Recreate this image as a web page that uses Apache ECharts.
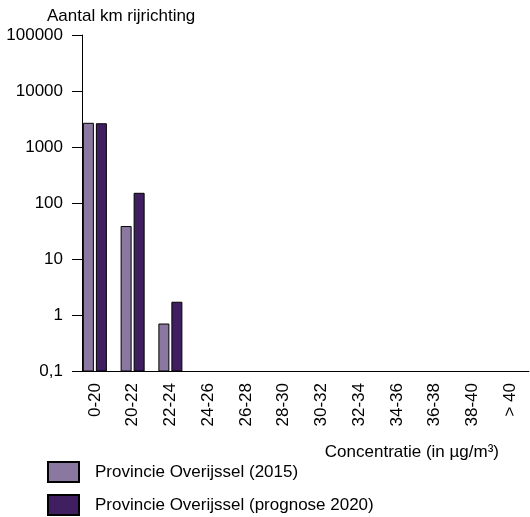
<!DOCTYPE html>
<html>
<head>
<meta charset="utf-8">
<script src="https://cdn.jsdelivr.net/npm/echarts@6/dist/echarts.min.js"></script>
<style>html,body{margin:0;padding:0;background:#fff}#c{width:530px;height:517px}</style>
</head>
<body>
<div id="c"></div>
<script>
const categories = ['0-20','20-22','22-24','24-26','26-28','28-30','30-32','32-34','34-36','36-38','38-40','> 40'];
const values2015 = [2650, 38, 0.69, null, null, null, null, null, null, null, null, null];
const values2020 = [2600, 149, 1.69, null, null, null, null, null, null, null, null, null];
const seriesNames = ['Provincie Overijssel (2015)', 'Provincie Overijssel (prognose 2020)'];
const yAxisTitle = 'Aantal km rijrichting';
const xAxisTitle = 'Concentratie (in µg/m³)';
const yMin = 0.1, yMax = 100000;

const FONT = '"Liberation Sans", Arial, sans-serif';
const FS = 17;
const BAR_W = 10, BAR_SHIFT = 6.5;

function toPairs(arr) {
  const out = [];
  arr.forEach((v, i) => { if (v != null) out.push([i, v]); });
  return out;
}
function makeRender(shift) {
  return function (params, api) {
    const idx = api.value(0);
    const v = api.value(1);
    const top = api.coord([idx, v]);
    const base = api.coord([idx, yMin]);
    return {
      type: 'rect',
      shape: {x: top[0] + shift - BAR_W / 2, y: top[1], width: BAR_W, height: base[1] - top[1]},
      style: api.style()
    };
  };
}

const chart = echarts.init(document.getElementById('c'), null, {renderer: 'canvas'});
chart.setOption({
  animation: false,
  backgroundColor: '#fff',
  textStyle: {fontFamily: FONT},
  title: [
    {text: yAxisTitle, left: 42, top: 3, textStyle: {fontSize: FS, fontWeight: 'normal', color: '#000', fontFamily: FONT}},
    {text: xAxisTitle, right: 26, top: 439, textStyle: {fontSize: FS, fontWeight: 'normal', color: '#000', fontFamily: FONT}}
  ],
  legend: {
    orient: 'vertical', left: 47, top: 461, padding: 0, itemWidth: 31, itemHeight: 20, itemGap: 11,
    icon: 'rect',
    textStyle: {fontSize: FS, color: '#000', fontFamily: FONT, padding: [0,0,0,11]},
    data: seriesNames
  },
  grid: {left: 76, right: 1, top: 35, bottom: 146, containLabel: false},
  xAxis: {
    type: 'category', data: categories,
    axisLine: {lineStyle: {color: '#000', width: 1}},
    axisTick: {show: false},
    axisLabel: {rotate: 90, margin: 12, fontSize: FS, color: '#000', fontFamily: FONT, interval: 0}
  },
  yAxis: {
    type: 'log', logBase: 10, min: yMin, max: yMax, offset: -6,
    axisLine: {show: true, lineStyle: {color: '#000', width: 1}},
    axisTick: {show: true, length: 10, lineStyle: {color: '#000'}},
    splitLine: {show: false},
    axisLabel: {margin: 19, fontSize: FS, color: '#000', fontFamily: FONT,
      formatter: v => v < 0.5 ? '0,1' : String(Math.round(v))}
  },
  series: [
    {name: seriesNames[0], type: 'custom', data: toPairs(values2015), renderItem: makeRender(-BAR_SHIFT),
     encode: {x: 0, y: 1},
     itemStyle: {color: '#8a78a0', borderColor: '#000', borderWidth: 1}},
    {name: seriesNames[1], type: 'custom', data: toPairs(values2020), renderItem: makeRender(BAR_SHIFT),
     encode: {x: 0, y: 1},
     itemStyle: {color: '#3f1f60', borderColor: '#000', borderWidth: 1}}
  ]
});
</script>
</body>
</html>
